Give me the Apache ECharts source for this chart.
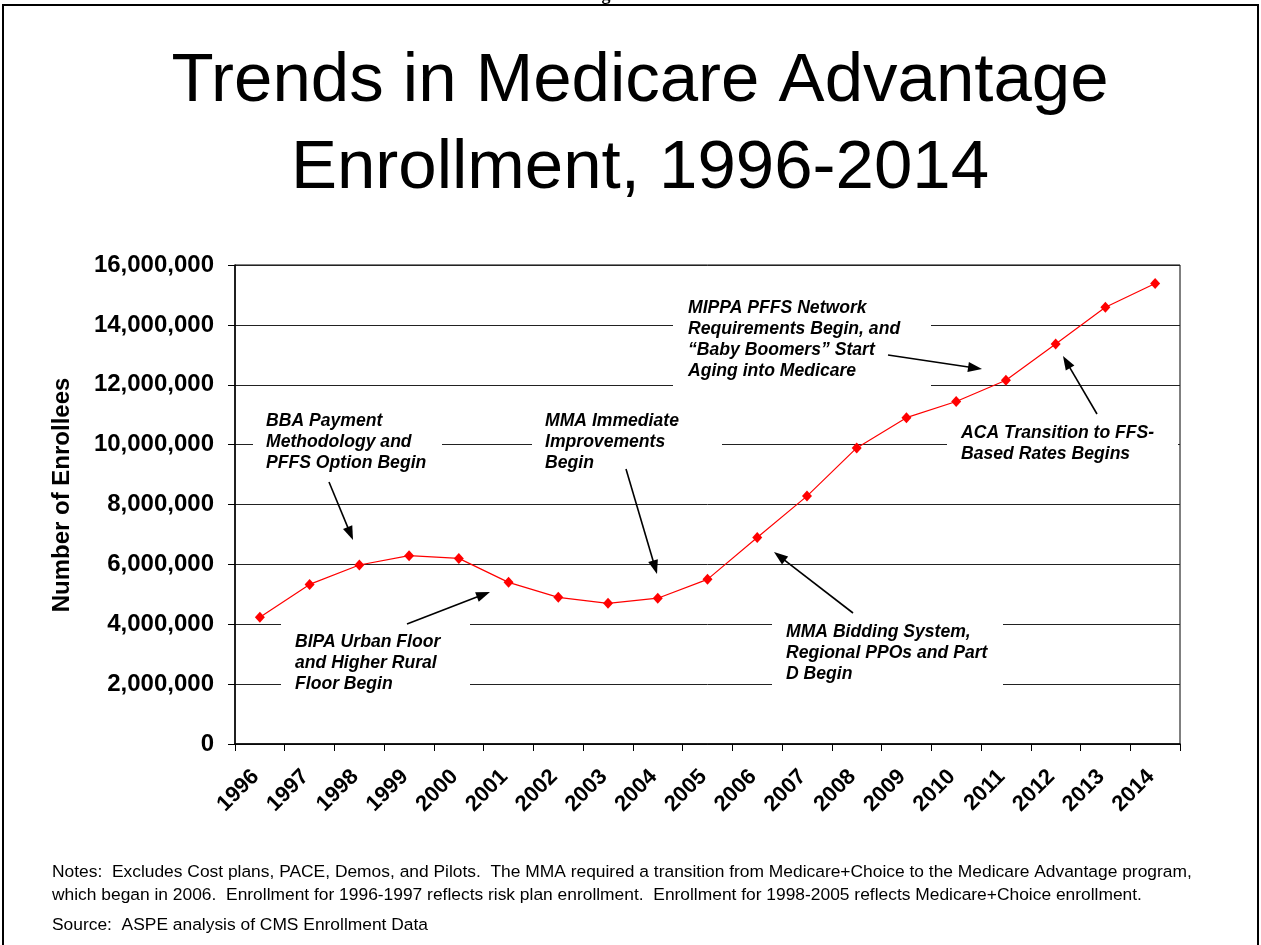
<!DOCTYPE html>
<html>
<head>
<meta charset="utf-8">
<script src="https://cdn.jsdelivr.net/npm/echarts@6/dist/echarts.min.js"></script>
<style>
html,body{margin:0;padding:0;background:#fff;}
#chart{width:1261px;height:945px;}
</style>
</head>
<body>
<div id="chart"></div>
<script>
// ---- Data ----
var years = ['1996','1997','1998','1999','2000','2001','2002','2003','2004','2005','2006','2007','2008','2009','2010','2011','2012','2013','2014'];
var enrollees = [4230000, 5330000, 5980000, 6290000, 6200000, 5400000, 4900000, 4700000, 4870000, 5500000, 6900000, 8280000, 9890000, 10900000, 11440000, 12150000, 13360000, 14590000, 15380000];
var yTicks = [0, 2000000, 4000000, 6000000, 8000000, 10000000, 12000000, 14000000, 16000000];

var titleLines = ['Trends in Medicare Advantage', 'Enrollment, 1996-2014'];
var yAxisTitle = 'Number of Enrollees';
var notesLines = [
  'Notes:  Excludes Cost plans, PACE, Demos, and Pilots.  The MMA required a transition from Medicare+Choice to the Medicare Advantage program,',
  'which began in 2006.  Enrollment for 1996-1997 reflects risk plan enrollment.  Enrollment for 1998-2005 reflects Medicare+Choice enrollment.',
  'Source:  ASPE analysis of CMS Enrollment Data'
];

// annotation texts
var annBBA = ['BBA Payment', 'Methodology and', 'PFFS Option Begin'];
var annMMAImm = ['MMA Immediate', 'Improvements', 'Begin'];
var annMIPPA = ['MIPPA PFFS Network', 'Requirements Begin, and', '\u201CBaby Boomers\u201D Start', 'Aging into Medicare'];
var annACA = ['ACA Transition to FFS-', 'Based Rates Begins'];
var annBIPA = ['BIPA Urban Floor', 'and Higher Rural', 'Floor Begin'];
var annMMABid = ['MMA Bidding System,', 'Regional PPOs and Part', 'D Begin'];

var FONT = 'Arial, "Liberation Sans", Helvetica, sans-serif';

var chart = echarts.init(document.getElementById('chart'));

function fmt(v){ return String(v).replace(/\B(?=(\d{3})+(?!\d))/g, ','); }

// ---- annotation graphics (layout only) ----
var graphics = [];
// slide frame
graphics.push({type:'rect', shape:{x:3, y:5, width:1255, height:980}, style:{fill:null, stroke:'#000', lineWidth:2}, z:1, silent:true});
// clipped glyph at top
graphics.push({type:'text', x:606, y:-14, style:{text:'g', font:'bold 18px "Liberation Serif", "Times New Roman", serif', fill:'#000', textAlign:'center', textVerticalAlign:'top'}, z:1});

// title
graphics.push({type:'text', x:640, y:82, style:{text:titleLines[0], font:'69px ' + FONT, fill:'#000', textAlign:'center', textVerticalAlign:'middle'}, z:10});
graphics.push({type:'text', x:640, y:168.5, style:{text:titleLines[1], font:'69px ' + FONT, fill:'#000', textAlign:'center', textVerticalAlign:'middle'}, z:10});

// y-axis title
graphics.push({type:'text', x:62, y:495, rotation:Math.PI/2, style:{text:yAxisTitle, font:'bold 24px ' + FONT, fill:'#000', textAlign:'center', textVerticalAlign:'middle'}, z:10});

// notes
var noteY = [872, 895, 925];
for (var i = 0; i < notesLines.length; i++) {
  graphics.push({type:'text', x:52, y:noteY[i], style:{text:notesLines[i], font:'17.4px ' + FONT, fill:'#000', textAlign:'left', textVerticalAlign:'middle'}, z:10});
}

function box(x, y, w, h){
  graphics.push({type:'rect', shape:{x:x, y:y, width:w, height:h}, style:{fill:'#fff'}, z:3, silent:true});
}
function label(lines, x, yFirstCenter){
  for (var i = 0; i < lines.length; i++) {
    graphics.push({type:'text', x:x, y:yFirstCenter + i * 21, style:{text:lines[i], font:'italic bold 17.6px ' + FONT, fill:'#000', textAlign:'left', textVerticalAlign:'middle'}, z:10});
  }
}
function arrow(x1, y1, x2, y2){
  var dx = x2 - x1, dy = y2 - y1, L = Math.sqrt(dx*dx + dy*dy);
  var ux = dx / L, uy = dy / L;
  var hl = 14, hw = 5;
  var bx = x2 - ux * hl, by = y2 - uy * hl;
  graphics.push({type:'line', shape:{x1:x1, y1:y1, x2:bx + ux*2, y2:by + uy*2}, style:{stroke:'#000', lineWidth:1.6}, z:10, silent:true});
  graphics.push({type:'polygon', shape:{points:[[x2, y2], [bx - uy*hw, by + ux*hw], [bx + uy*hw, by - ux*hw]]}, style:{fill:'#000'}, z:10, silent:true});
}

// white boxes hiding gridlines behind labels
box(253, 405, 189, 72);   // BBA
box(532, 405, 190, 72);   // MMA Immediate
box(673, 294, 258, 97);   // MIPPA
box(947, 420, 231, 48);   // ACA
box(281, 617, 189, 82);   // BIPA
box(772, 617, 231, 82);   // MMA bidding

label(annBBA, 266, 421.5);
label(annMMAImm, 545, 421.5);
label(annMIPPA, 688, 308);
label(annACA, 961, 433);
label(annBIPA, 295, 642);
label(annMMABid, 786, 632);

arrow(329, 482, 353, 540);
arrow(626, 469, 657, 574);
arrow(888, 355, 982, 369);
arrow(1097, 414, 1063, 356);
arrow(407, 624, 490, 592);
arrow(853, 613, 774, 552);

var option = {
  backgroundColor: '#fff',
  animation: false,
  textStyle: {fontFamily: FONT},
  grid: {left: 235, top: 265, width: 945, height: 479, show: true, borderColor: '#000', borderWidth: 1, backgroundColor: 'transparent', containLabel: false},
  xAxis: {
    type: 'category',
    data: years,
    boundaryGap: true,
    axisLine: {show: true, lineStyle: {color: '#000', width: 1.5}},
    axisTick: {show: true, inside: false, length: 7, alignWithLabel: false, lineStyle: {color: '#000', width: 1}},
    axisLabel: {rotate: 45, interval: 0, margin: 25, padding: [0, 6, 0, 0], color: '#000', fontWeight: 'bold', fontSize: 22, fontFamily: FONT},
    splitLine: {show: false}
  },
  yAxis: {
    type: 'value',
    min: yTicks[0],
    max: yTicks[yTicks.length - 1],
    interval: yTicks[1] - yTicks[0],
    axisLine: {show: true, lineStyle: {color: '#000', width: 1.5}},
    axisTick: {show: true, inside: false, length: 7, lineStyle: {color: '#000', width: 1}},
    axisLabel: {margin: 21, color: '#000', fontWeight: 'bold', fontSize: 24, fontFamily: FONT, formatter: function(v){ return fmt(v); }},
    splitLine: {show: true, lineStyle: {color: '#222', width: 1}}
  },
  series: [{
    type: 'line',
    data: enrollees,
    z: 5,
    symbol: 'diamond',
    symbolSize: [10, 11],
    itemStyle: {color: '#ff0000'},
    lineStyle: {color: '#ff0000', width: 1.2},
    label: {show: false}
  }],
  graphic: graphics
};
chart.setOption(option);
</script>
</body>
</html>
